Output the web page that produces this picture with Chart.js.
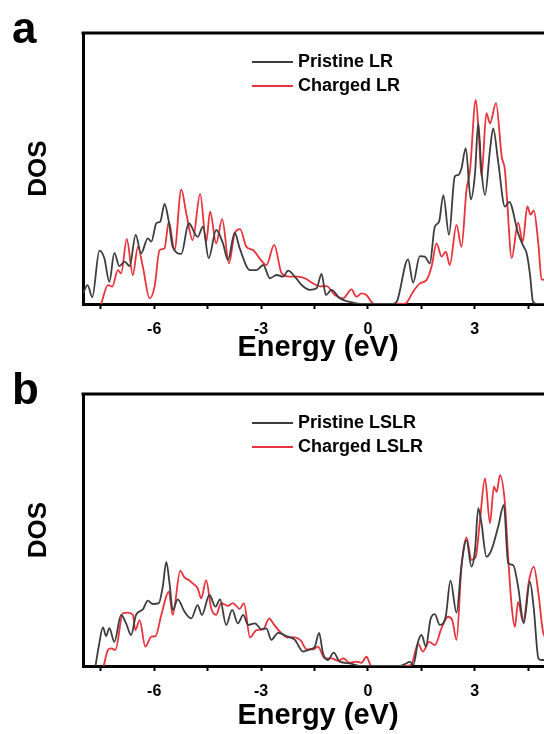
<!DOCTYPE html>
<html lang="en">
<head>
    <meta charset="UTF-8">
    <title>DOS - Pristine vs. Charged</title>
    <script src="https://cdn.jsdelivr.net/npm/chart.js"></script>
    <style>
        html, body { margin: 0; padding: 0; background: #fff; overflow: hidden; width: 544px; height: 734px; }
        .panel { position: relative; width: 560px; }
        #panelA { height: 361px; }
        #panelB { height: 373px; }
    </style>
</head>
<body>
    <div class="panel" id="panelA"><canvas id="chartA"></canvas></div>
    <div class="panel" id="panelB"><canvas id="chartB"></canvas></div>

    <script>
        // ---- data (energy in eV, DOS in arbitrary units 0-100) ----
        const pristineLR_E = [-8.0, -7.87, -7.74, -7.54, -7.40, -7.26, -7.12, -6.98, -6.83, -6.69, -6.52, -6.37, -6.18, -6.08,
            -5.94, -5.83, -5.71, -5.59, -5.48, -5.24, -5.03, -4.78, -4.63, -4.47, -4.26, -4.07, -3.93, -3.74, -3.60, -3.31,
            -3.13, -2.94, -2.75, -2.56, -2.38, -2.24, -2.05, -1.86, -1.63, -1.44, -1.30, -1.18, -1.02, -0.79, -0.51, -0.20,
            0.70, 0.81, 1.13, 1.27, 1.46, 1.60, 1.74, 1.88, 2.00, 2.12, 2.28, 2.44, 2.54, 2.63, 2.75, 2.89, 3.01, 3.10, 3.19,
            3.29, 3.43, 3.52, 3.66, 3.85, 3.97, 4.22, 4.35, 4.46, 4.55, 4.64, 4.75, 5.2];
        const pristineLR_DOS = [4, 7, 2.5, 19.7, 16.9, 8.2, 18.9, 14, 15.6, 14, 25.5, 18.7, 24.2, 23,
            29.8, 30.4, 36.9, 30.4, 21.1, 18.5, 29.8, 24.8, 28.5, 16.9, 27.3, 22.4, 16.2, 26.3, 20.6, 12.5,
            12.5, 14.4, 9.5, 10.7, 10.1, 12.3, 10.1, 7, 5.2, 5.8, 11.1, 3.3, 5.2, 2.1, 0.8, 0,
            0, 0.8, 16.5, 7.9, 17.7, 17.5, 15, 28.5, 30.4, 40.2, 25.5, 47, 47.6, 50.1, 57.5, 38.6, 48.2, 66.7, 49.4,
            40.2, 56.8, 64.8, 52.5, 35.9, 37.7, 26.1, 21.8, 18.7, 11.3, 0.8, 0, 0];

        const chargedLR_E = [-7.49, -7.30, -7.18, -7.02, -6.93, -6.77, -6.60, -6.46, -6.32, -6.13, -5.99, -5.85, -5.71, -5.59,
            -5.43, -5.24, -5.10, -4.92, -4.71, -4.54, -4.43, -4.26, -4.09, -3.90, -3.74, -3.59, -3.41, -3.22, -3.05, -2.85,
            -2.63, -2.42, -2.19, -1.96, -1.77, -1.54, -1.35, -1.16, -0.93, -0.69, -0.46, -0.32, -0.18, -0.04, 0.10, 0.20,
            1.00, 1.09, 1.27, 1.46, 1.65, 1.79, 1.93, 2.07, 2.19, 2.30, 2.49, 2.63, 2.77, 2.87, 3.03, 3.12, 3.19, 3.33, 3.43,
            3.60, 3.76, 3.85, 3.91, 4.04, 4.22, 4.35, 4.48, 4.57, 4.66, 4.79, 4.88, 5.2];
        const chargedLR_DOS = [0, 7, 6.4, 12.5, 11.3, 23.9, 10.7, 21.1, 13.8, 2.1, 6.4, 19.9, 20.6, 30.4,
            19.9, 42.3, 33.5, 23.6, 40.6, 23, 34.1, 22.4, 31.3, 15, 26.1, 27.6, 21.1, 19.9, 17, 14.4,
            21.8, 11.3, 10.1, 10.1, 9.5, 7.6, 6.5, 6.6, 3.3, 2.1, 5.4, 2.7, 3.9, 3.3, 0.8, 0,
            0, 0.5, 4.5, 7.6, 8.9, 13.8, 22.4, 17.5, 19.3, 14.4, 29.2, 21.1, 42.1, 49.4, 75.3, 62, 47, 70.4, 66.7,
            74.1, 54.4, 49.4, 38.4, 17, 30, 23, 36, 33, 34.5, 22, 9, 9];

        const pristineLSLR_E = [-7.65, -7.56, -7.44, -7.35, -7.26, -7.12, -6.93, -6.79, -6.65, -6.51, -6.32, -6.18, -6.04, -5.87,
            -5.76, -5.66, -5.57, -5.48, -5.34, -5.15, -4.96, -4.78, -4.66, -4.45, -4.28, -4.15, -3.98, -3.81, -3.65, -3.50,
            -3.36, -3.17, -2.99, -2.85, -2.71, -2.52, -2.29, -2.05, -1.82, -1.63, -1.49, -1.37, -1.26, -1.12, -0.96, -0.79,
            -0.51, -0.22, 0.90, 1.04, 1.18, 1.28, 1.41, 1.51, 1.63, 1.76, 1.88, 2.02, 2.19, 2.32, 2.49, 2.63, 2.77, 2.91,
            3.01, 3.10, 3.19, 3.33, 3.47, 3.66, 3.82, 3.94, 4.08, 4.22, 4.38, 4.55, 4.66, 4.79, 4.88, 5.2];
        const pristineLSLR_DOS = [0, 7, 14.2, 11, 13.9, 8.9, 18.8, 15.7, 11.4, 18.8, 20.8, 24, 22.8, 23.1,
            29.2, 38.3, 30.4, 20.6, 24.5, 20, 17.5, 22.4, 18.8, 26.1, 21.8, 24.5, 15.1, 20.6, 15.7, 18.8,
            15.1, 15.7, 13.5, 13.8, 9.6, 12.2, 11, 9.6, 5.3, 6.1, 7.1, 12.2, 4.7, 2.2, 4.9, 1.6,
            1, 0, 0, 0.7, 1.5, 0.5, 8.9, 11.4, 7.1, 17.2, 19.1, 15.1, 18.4, 31.4, 19.6, 37.1, 46.3, 36.5,
            42.6, 58, 52.5, 40.2, 42.6, 51.2, 59.2, 37.8, 37.1, 29.2, 15.7, 31, 21.2, 2.8, 2.2, 2.2];

        const chargedLSLR_E = [-7.42, -7.30, -7.21, -7.09, -6.88, -6.74, -6.60, -6.53, -6.41, -6.25, -6.08, -5.96, -5.80, -5.59,
            -5.48, -5.27, -5.15, -5.03, -4.92, -4.78, -4.68, -4.54, -4.40, -4.26, -4.12, -3.93, -3.79, -3.60, -3.48, -3.31,
            -3.13, -2.94, -2.77, -2.65, -2.47, -2.24, -2.05, -1.88, -1.72, -1.54, -1.40, -1.21, -1.02, -0.83, -0.69, -0.51,
            -0.32, -0.18, -0.04, 0.10, 1.10, 1.23, 1.41, 1.55, 1.72, 1.88, 2.07, 2.25, 2.37, 2.49, 2.63, 2.77, 2.91, 3.03,
            3.15, 3.29, 3.43, 3.54, 3.62, 3.71, 3.85, 3.94, 4.04, 4.13, 4.22, 4.36, 4.53, 4.66, 4.79, 4.93, 5.2];
        const chargedLSLR_DOS = [0, 5.9, 6.5, 5.9, 19.4, 19.6, 18.8, 13.2, 16.9, 7.1, 10.8, 11, 18.8, 27.3,
            18.8, 35, 32.6, 31.6, 30.4, 28.6, 24.9, 31.6, 21.2, 18.8, 23.1, 22.1, 23.1, 21, 23, 10.5,
            13.2, 13.5, 17.5, 15.5, 12.6, 10.5, 10.5, 9.3, 6.1, 6.1, 7.1, 2.8, 2.8, 1.9, 2.8, 1.2,
            1.6, 1.2, 3.4, 0, 0, 0.7, 8.1, 5.3, 8.9, 7.7, 13.9, 18.1, 16.9, 9.6, 36.5, 47.3, 39, 40.2,
            53.7, 69, 52.5, 65.9, 64, 70.2, 59.8, 40.2, 21.8, 14.4, 23.6, 16.3, 31.6, 36.5, 26.7, 12, 8];

        const minorTicks = [-7.5, -6, -4.5, -3, -1.5, 0, 1.5, 3, 4.5];
        const majorTicks = [-6, -3, 0, 3];

        const FONT = '"Liberation Sans", Arial, sans-serif';
        const BLACK_LINE = '#3d3d3d';
        const RED_LINE = '#e8323c';

        function toPoints(xs, ys) {
            return xs.map((x, i) => ({ x: x, y: ys[i] }));
        }

        // panel letter, top frame line and the in-plot legend
        const panelDecor = {
            id: 'panelDecor',
            afterDraw(chart, args, opts) {
                const ctx = chart.ctx;
                const area = chart.chartArea;
                ctx.save();
                // top frame
                ctx.strokeStyle = '#000';
                ctx.lineWidth = 3;
                ctx.beginPath();
                ctx.moveTo(area.left - 1.5, area.top);
                ctx.lineTo(chart.width, area.top);
                ctx.stroke();
                // panel letter
                ctx.fillStyle = '#000';
                ctx.font = 'bold 44px ' + FONT;
                ctx.textBaseline = 'alphabetic';
                ctx.fillText(opts.letter, 12, 43);
                // legend
                ctx.font = 'bold 18px ' + FONT;
                ctx.textBaseline = 'middle';
                chart.data.datasets.forEach((ds, i) => {
                    const y = opts.legendY + i * 24;
                    ctx.strokeStyle = ds.borderColor;
                    ctx.lineWidth = 1.8;
                    ctx.beginPath();
                    ctx.moveTo(opts.legendX, y);
                    ctx.lineTo(opts.legendX + 41, y);
                    ctx.stroke();
                    ctx.fillText(ds.label, opts.legendX + 46, y);
                });
                ctx.restore();
            }
        };

        function makePanel(canvasId, letter, names, blackE, blackDOS, redE, redDOS, bottomPad, titlePad) {
            const ctx = document.getElementById(canvasId).getContext('2d');
            return new Chart(ctx, {
                type: 'line',
                data: {
                    datasets: [
                        {
                            label: names[0],
                            data: toPoints(blackE, blackDOS),
                            borderColor: BLACK_LINE,
                            borderWidth: 1.8,
                            pointRadius: 0,
                            cubicInterpolationMode: 'monotone'
                        },
                        {
                            label: names[1],
                            data: toPoints(redE, redDOS),
                            borderColor: RED_LINE,
                            borderWidth: 1.8,
                            pointRadius: 0,
                            cubicInterpolationMode: 'monotone'
                        }
                    ]
                },
                options: {
                    responsive: true,
                    maintainAspectRatio: false,
                    animation: false,
                    layout: { padding: { top: 33, left: 20, right: 7, bottom: bottomPad } },
                    scales: {
                        x: {
                            type: 'linear',
                            min: -8,
                            max: 5.2,
                            afterBuildTicks: (scale) => {
                                scale.ticks = minorTicks.map(v => ({ value: v }));
                            },
                            ticks: {
                                color: '#000',
                                padding: 13,
                                maxRotation: 0,
                                font: { family: FONT, size: 16, weight: 'bold', lineHeight: 1 },
                                callback: (v) => majorTicks.includes(v) ? String(v) : ''
                            },
                            grid: {
                                drawOnChartArea: false,
                                drawTicks: true,
                                tickLength: 5,
                                tickWidth: 2,
                                tickColor: '#000'
                            },
                            border: { display: true, color: '#000', width: 3 },
                            title: {
                                display: true,
                                text: 'Energy (eV)',
                                color: '#000',
                                padding: titlePad,
                                font: { family: FONT, size: 29, weight: 'bold', lineHeight: 1 }
                            }
                        },
                        y: {
                            min: 0,
                            max: 100,
                            afterFit: (scale) => { scale.width = 63; },
                            ticks: { display: false },
                            grid: { display: false },
                            border: { display: true, color: '#000', width: 3 },
                            title: {
                                display: true,
                                text: 'DOS',
                                color: '#000',
                                padding: { top: 6, bottom: 0 },
                                font: { family: FONT, size: 26, weight: 'bold', lineHeight: 1 }
                            }
                        }
                    },
                    plugins: {
                        legend: { display: false },
                        tooltip: { enabled: false },
                        panelDecor: { letter: letter, legendX: 252, legendY: 62 }
                    }
                },
                plugins: [panelDecor]
            });
        }

        makePanel('chartA', 'a', ['Pristine LR', 'Charged LR'],
            pristineLR_E, pristineLR_DOS, chargedLR_E, chargedLR_DOS, 0, { top: -18, bottom: -1 });
        makePanel('chartB', 'b', ['Pristine LSLR', 'Charged LSLR'],
            pristineLSLR_E, pristineLSLR_DOS, chargedLSLR_E, chargedLSLR_DOS, 11, { top: -12, bottom: -7 });
    </script>
</body>
</html>
